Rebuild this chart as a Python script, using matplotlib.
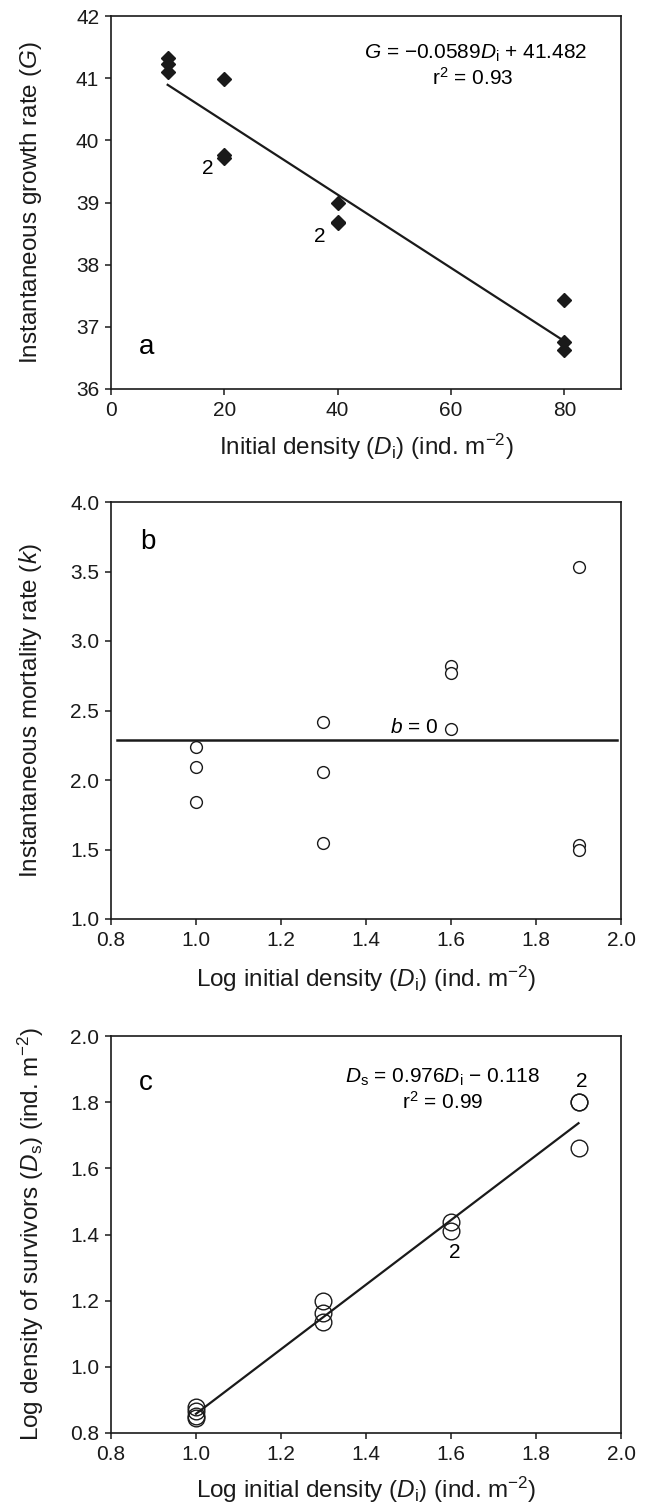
import matplotlib
matplotlib.use("Agg")
import matplotlib.pyplot as plt
from matplotlib.ticker import FormatStrFormatter

plt.rcParams['font.family'] = ['Liberation Sans', 'DejaVu Sans']
plt.rcParams['mathtext.fontset'] = 'custom'
plt.rcParams['mathtext.rm'] = 'Liberation Sans'
plt.rcParams['mathtext.it'] = 'Liberation Sans:italic'

# panel a: growth rate vs initial density
a_x = [10, 10, 10, 20, 20, 20, 40, 40, 40, 80, 80, 80]
a_y = [41.33, 41.22, 41.10, 40.98, 39.76, 39.72, 39.00, 38.69, 38.67, 37.43, 36.75, 36.62]
a_slope, a_icpt = -0.0589, 41.482
a_fit_x = [10, 80]

# panel b: mortality rate vs log initial density
b_x = [1.0, 1.0, 1.0, 1.3, 1.3, 1.3, 1.6, 1.6, 1.6, 1.9, 1.9, 1.9]
b_y = [2.24, 2.09, 1.84, 2.42, 2.06, 1.55, 2.82, 2.77, 2.37, 3.53, 1.53, 1.50]
b_mean = 2.29
b_fit_x = [0.815, 1.99]

# panel c: log survivors vs log initial density
c_x = [1.0, 1.0, 1.0, 1.0, 1.3, 1.3, 1.3, 1.6, 1.6, 1.9, 1.9, 1.9]
c_y = [0.878, 0.865, 0.852, 0.845, 1.198, 1.162, 1.137, 1.439, 1.41, 1.80, 1.80, 1.661]
c_slope, c_icpt = 0.976, -0.118
c_fit_x = [1.0, 1.9]

W, H = 646, 1511
fig = plt.figure(figsize=(W / 100, H / 100), dpi=100)
INK = '#1a1a1a'


def make_axes(top, bottom, left=111, right=621):
    ax = fig.add_axes([left / W, (H - bottom) / H, (right - left) / W, (bottom - top) / H])
    ax.tick_params(direction='out', length=4.5, width=1.1, labelsize=15, colors=INK,
                   top=False, right=False, pad=4)
    for s in ax.spines.values():
        s.set_linewidth(1.2)
        s.set_color(INK)
    return ax


def place_labels(ax, xl, yl, xy, yx=-0.157):
    ax.set_xlabel(xl, fontsize=LBL, va='center', color=INK)
    ax.set_ylabel(yl, fontsize=LBL, va='center', color=INK)
    ax.xaxis.set_label_coords(0.5, xy)
    ax.yaxis.set_label_coords(yx, 0.5)


TXT = 15
LBL = 17.5
PANEL = 20

# ---- a ----
ax = make_axes(16, 389)
ax.plot(a_x, a_y, 'D', color=INK, markersize=7)
ax.plot(a_fit_x, [a_slope * x + a_icpt for x in a_fit_x], color=INK, lw=1.6)
ax.set_xlim(0, 90)
ax.set_ylim(36, 42)
ax.set_xticks([0, 20, 40, 60, 80])
ax.set_yticks([36, 37, 38, 39, 40, 41, 42])
place_labels(ax, r'Initial density ($D_\mathrm{i}$) (ind. m$^{-2}$)',
             r'Instantaneous growth rate ($G$)', -0.155)
ax.text(6.2, 36.68, 'a', fontsize=PANEL, ha='center', va='center')
ax.text(17.0, 39.55, '2', fontsize=TXT, ha='center', va='center')
ax.text(36.8, 38.46, '2', fontsize=TXT, ha='center', va='center')
ax.text(64.4, 41.40, r'$G$ = −0.0589$D_\mathrm{i}$ + 41.482', fontsize=TXT, ha='center', va='center')
ax.text(63.8, 41.01, r'r$^2$ = 0.93', fontsize=TXT, ha='center', va='center')

# ---- b ----
ax = make_axes(502, 919)
ax.plot(b_x, b_y, 'o', mfc='white', mec=INK, mew=1.0, markersize=8.5)
ax.plot(b_fit_x, [b_mean, b_mean], color=INK, lw=1.8)
ax.set_xlim(0.8, 2.0)
ax.set_ylim(1.0, 4.0)
ax.set_xticks([0.8, 1.0, 1.2, 1.4, 1.6, 1.8, 2.0])
ax.set_yticks([1.0, 1.5, 2.0, 2.5, 3.0, 3.5, 4.0])
ax.xaxis.set_major_formatter(FormatStrFormatter('%.1f'))
ax.yaxis.set_major_formatter(FormatStrFormatter('%.1f'))
place_labels(ax, r'Log initial density ($D_\mathrm{i}$) (ind. m$^{-2}$)',
             r'Instantaneous mortality rate ($k$)', -0.144)
ax.text(0.887, 3.71, 'b', fontsize=PANEL, ha='center', va='center')
ax.text(1.513, 2.375, r'$b$ = 0', fontsize=TXT, ha='center', va='center')

# ---- c ----
ax = make_axes(1036, 1433)
ax.plot(c_x, c_y, 'o', mfc='none', mec=INK, mew=1.0, markersize=12)
ax.plot(c_fit_x, [c_slope * x + c_icpt for x in c_fit_x], color=INK, lw=1.6)
ax.set_xlim(0.8, 2.0)
ax.set_ylim(0.8, 2.0)
ax.set_xticks([0.8, 1.0, 1.2, 1.4, 1.6, 1.8, 2.0])
ax.set_yticks([0.8, 1.0, 1.2, 1.4, 1.6, 1.8, 2.0])
ax.xaxis.set_major_formatter(FormatStrFormatter('%.1f'))
ax.yaxis.set_major_formatter(FormatStrFormatter('%.1f'))
place_labels(ax, r'Log initial density ($D_\mathrm{i}$) (ind. m$^{-2}$)',
             r'Log density of survivors ($D_\mathrm{s}$) (ind. m$^{-2}$)', -0.144)
ax.text(0.882, 1.857, 'c', fontsize=PANEL, ha='center', va='center')
ax.text(1.58, 1.875, r'$D_\mathrm{s}$ = 0.976$D_\mathrm{i}$ − 0.118', fontsize=TXT, ha='center', va='center')
ax.text(1.58, 1.80, r'r$^2$ = 0.99', fontsize=TXT, ha='center', va='center')
ax.text(1.908, 1.862, '2', fontsize=TXT, ha='center', va='center')
ax.text(1.609, 1.346, '2', fontsize=TXT, ha='center', va='center')

fig.savefig('out.png', dpi=100)
